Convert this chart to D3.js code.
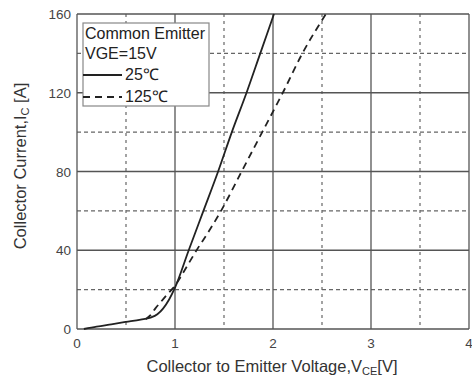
<!DOCTYPE html>
<html>
<head>
<meta charset="utf-8">
<script src="https://cdn.jsdelivr.net/npm/d3@7"></script>
<style>
  body { margin: 0; background: #fff; }
  svg { font-family: "Liberation Sans", Arial, sans-serif; }
</style>
</head>
<body>
<svg id="chart" width="472" height="383"></svg>
<script>
// curve data
var vce25 = [0.07, 0.2, 0.35, 0.5, 0.65, 0.75, 0.82, 0.88, 0.94, 1.0, 1.14, 1.29, 1.44, 1.58, 1.73, 1.87, 2.01];
var ic25  = [0, 1.2, 2.4, 3.6, 4.8, 5.8, 7.5, 10.5, 15, 21, 40, 60, 80, 100, 120, 140, 160];
var vce125 = [0.70, 0.75, 0.80, 0.86, 0.92, 1.0, 1.1, 1.22, 1.35, 1.47, 1.68, 1.89, 2.10, 2.30, 2.54];
var ic125  = [5, 7, 10.5, 14, 17.5, 22, 30, 40, 50, 60, 80, 100, 120, 140, 160];

var xTicks = [0, 1, 2, 3, 4];
var xMinor = [0.5, 1.5, 2.5, 3.5];
var yTicks = [0, 40, 80, 120, 160];
var yMinor = [20, 60, 100, 140];

var legendLines = ["Common Emitter", "VGE=15V"];
var seriesNames = ["25\u2103", "125\u2103"];

(function () {
    var svg = d3.select('#chart');
    var left = 77, top = 14, right = 469, bottom = 329;

    var x = d3.scaleLinear().domain([0, 4]).range([left, right]);
    var y = d3.scaleLinear().domain([0, 160]).range([bottom, top]);

    // minor dashed grid
    svg.append('g').selectAll('line').data(xMinor).enter().append('line')
        .attr('x1', d => x(d)).attr('x2', d => x(d))
        .attr('y1', top).attr('y2', bottom)
        .attr('stroke', '#666').attr('stroke-width', 1.2)
        .attr('stroke-dasharray', '3,4');
    svg.append('g').selectAll('line').data(yMinor).enter().append('line')
        .attr('x1', left).attr('x2', right)
        .attr('y1', d => y(d)).attr('y2', d => y(d))
        .attr('stroke', '#666').attr('stroke-width', 1.2)
        .attr('stroke-dasharray', '4,3');

    // major solid grid
    svg.append('g').selectAll('line').data(xTicks).enter().append('line')
        .attr('x1', d => x(d)).attr('x2', d => x(d))
        .attr('y1', top).attr('y2', bottom)
        .attr('stroke', '#555').attr('stroke-width', 1.3);
    svg.append('g').selectAll('line').data(yTicks).enter().append('line')
        .attr('x1', left).attr('x2', right)
        .attr('y1', d => y(d)).attr('y2', d => y(d))
        .attr('stroke', '#555').attr('stroke-width', 1.3);

    // tick labels
    svg.append('g').selectAll('text').data(xTicks).enter().append('text')
        .attr('x', d => x(d)).attr('y', bottom + 19)
        .attr('text-anchor', 'middle')
        .attr('font-size', 13.5).attr('fill', '#444')
        .text(d => d);
    svg.append('g').selectAll('text').data(yTicks).enter().append('text')
        .attr('x', left - 6).attr('y', d => y(d) + 5)
        .attr('text-anchor', 'end')
        .attr('font-size', 13.5).attr('fill', '#444')
        .text(d => d);

    // curves
    var line = d3.line()
        .x(d => x(d[0])).y(d => y(d[1]))
        .curve(d3.curveMonotoneX);

    svg.append('path')
        .datum(d3.zip(vce25, ic25))
        .attr('d', line)
        .attr('fill', 'none').attr('stroke', '#222').attr('stroke-width', 1.8);

    svg.append('path')
        .datum(d3.zip(vce125, ic125))
        .attr('d', line)
        .attr('fill', 'none').attr('stroke', '#222').attr('stroke-width', 1.8)
        .attr('stroke-dasharray', '7,5');

    // legend
    var lg = svg.append('g');
    lg.append('rect')
        .attr('x', 83).attr('y', 23).attr('width', 126).attr('height', 83)
        .attr('fill', '#fff').attr('stroke', '#888').attr('stroke-width', 1.2);
    lg.selectAll('text.head').data(legendLines).enter().append('text')
        .attr('class', 'head')
        .attr('x', 85).attr('y', (d, i) => 39 + i * 20)
        .attr('font-size', 16).attr('fill', '#222')
        .text(d => d);
    seriesNames.forEach(function (name, i) {
        var yy = 75 + i * 22;
        lg.append('line')
            .attr('x1', 83).attr('x2', 122)
            .attr('y1', yy).attr('y2', yy)
            .attr('stroke', '#222').attr('stroke-width', 1.8)
            .attr('stroke-dasharray', i === 0 ? null : '7,5');
        lg.append('text')
            .attr('x', 125).attr('y', yy + 5)
            .attr('font-size', 16).attr('fill', '#222')
            .text(name);
    });

    // axis titles
    var xt = svg.append('text')
        .attr('x', 272).attr('y', 372)
        .attr('text-anchor', 'middle')
        .attr('font-size', 16.5).attr('fill', '#333');
    xt.append('tspan').text('Collector to Emitter Voltage,V');
    xt.append('tspan').attr('font-size', 11).attr('dy', 3).text('CE');
    xt.append('tspan').attr('dy', -3).text('[V]');

    var yt = svg.append('text')
        .attr('transform', 'translate(26,' + 166 + ') rotate(-90)')
        .attr('text-anchor', 'middle')
        .attr('font-size', 16.5).attr('fill', '#333');
    yt.append('tspan').text('Collector Current,I');
    yt.append('tspan').attr('font-size', 11).attr('dy', 3).text('C');
    yt.append('tspan').attr('dy', -3).text(' [A]');
})();
</script>
</body>
</html>
